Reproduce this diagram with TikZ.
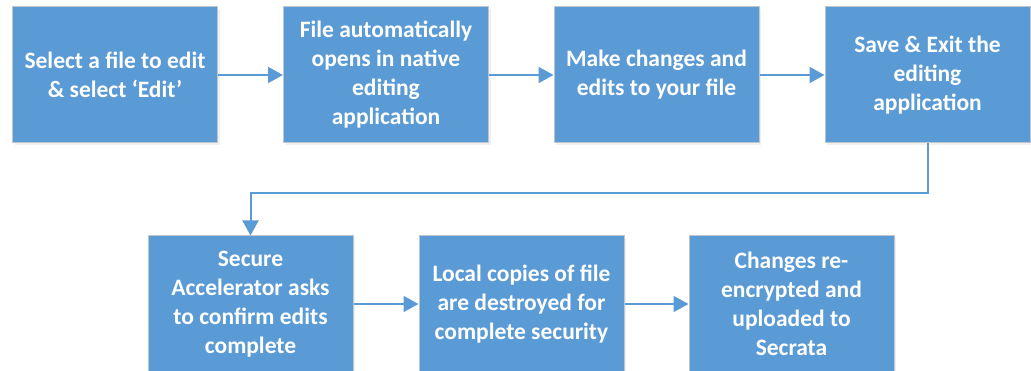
\documentclass[tikz,border=0pt]{standalone}
\usepackage{fontspec}
\setmainfont{Carlito}
\usetikzlibrary{arrows.meta,shadows}
\definecolor{boxblue}{HTML}{5B9BD5}
\definecolor{boxedge}{HTML}{BFC5CC}
\begin{document}
\begin{tikzpicture}[x=1pt,y=1pt,
  stepbox/.style={rectangle, fill=boxblue, draw=boxedge, line width=1pt,
    minimum width=205pt, minimum height=136pt, inner sep=0pt,
    align=center, text=white,
    font=\fontsize{23.5}{29}\selectfont\bfseries,
    drop shadow={opacity=0.12, shadow xshift=2pt, shadow yshift=-2pt}},
  flow/.style={draw=boxblue, line width=2pt,
    -{Triangle[length=15pt,width=16pt]}}]
\useasboundingbox (0,0) rectangle (1031,371);
\node[stepbox] (s1) at (115,296) {Select a file to edit\\\& select ‘Edit’};
\node[stepbox] (s2) at (386,296) {File automatically\\opens in native\\editing\\application};
\node[stepbox] (s3) at (656.5,296) {Make changes and\\edits to your file};
\node[stepbox] (s4) at (927.5,296) {Save \& Exit the\\editing\\application};
\node[stepbox] (s5) at (250.5,67) {Secure\\Accelerator asks\\to confirm edits\\complete};
\node[stepbox] (s6) at (521.5,67) {Local copies of file\\are destroyed for\\complete security};
\node[stepbox] (s7) at (791.5,67) {Changes re-\\encrypted and\\uploaded to\\Secrata};
\coordinate (k1) at (927.5,178);
\coordinate (k2) at (250.5,178);
\draw[flow] (s1) -- (s2);
\draw[flow] (s2) -- (s3);
\draw[flow] (s3) -- (s4);
\draw[flow] (s4.south) -- (k1) -- (k2) -- (s5.north);
\draw[flow] (s5) -- (s6);
\draw[flow] (s6) -- (s7);
\end{tikzpicture}
\end{document}
